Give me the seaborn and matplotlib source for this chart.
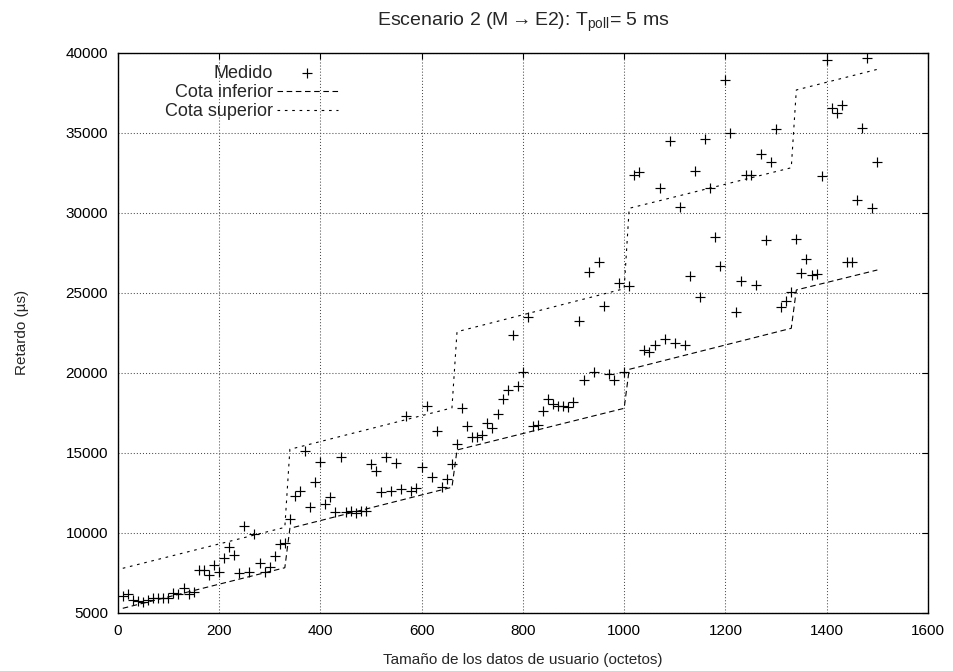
import matplotlib
matplotlib.use("Agg")
import matplotlib.pyplot as plt
import seaborn as sns
import pandas as pd

# ---------------- data ----------------
sizes = list(range(10, 1501, 10))  # tamaño de los datos de usuario (octetos)
measured = [
    6060, 6170, 5800, 5750, 5650, 5800, 5900, 5900, 5900, 5900,
    6250, 6200, 6520, 6200, 6300, 7670, 7670, 7375, 7980, 7560,
    8420, 9080, 8600, 7500, 10420, 7560, 9920, 8090, 7560, 7840,
    8560, 9290, 9375, 10860, 12290, 12625, 15125, 11590, 13190, 14400,
    11775, 12250, 11310, 14710, 11310, 11350, 11250, 11350, 11350, 14290,
    13880, 12560, 14710, 12630, 14340, 12710, 17310, 12630, 12780, 14130,
    17920, 13460, 16380, 12880, 13340, 14290, 15540, 17770, 16670, 15960,
    15960, 16110, 16840, 16520, 17400, 18340, 18920, 22360, 19170, 20060,
    23460, 16670, 16730, 17630, 18340, 18030, 17920, 17920, 17840, 18190,
    23250, 19540, 26270, 20060, 26940, 24170, 19920, 19540, 25620, 20060,
    25420, 32360, 32560, 21420, 21310, 21730, 31520, 22090, 34480, 21880,
    30340, 21730, 26040, 32610, 24710, 34600, 31520, 28460, 26670, 38290,
    34960, 23770, 25750, 32360, 32360, 25480, 33650, 28290, 33190, 35210,
    24100, 24480, 25060, 28360, 26210, 27100, 26100, 26170, 32310, 39540,
    36560, 36250, 36730, 26900, 26940, 30780, 35275, 39690, 30270, 33150,
]

bound_x = [10, 330, 340, 660, 670, 1000, 1010, 1330, 1340, 1500]
lower_bound = [5275, 7810, 10275, 12840, 15170, 17775, 20210, 22775, 25170, 26420]
upper_bound = [7775, 10335, 15210, 17800, 22560, 25250, 30275, 32810, 37670, 38960]

x_ticks = [0, 200, 400, 600, 800, 1000, 1200, 1400, 1600]
y_ticks = [5000, 10000, 15000, 20000, 25000, 30000, 35000, 40000]

title = "Escenario 2 (M$\\rightarrow$E2): T$_{\\mathrm{poll}}$= 5 ms"
xlabel = "Tamaño de los datos de usuario (octetos)"
ylabel = "Retardo (µs)"
labels = ["Medido", "Cota inferior", "Cota superior"]

# ---------------- style ----------------
sns.set_theme(style="white")
plt.rcParams["font.family"] = ["Liberation Sans", "DejaVu Sans"]
plt.rcParams["mathtext.fontset"] = "custom"
plt.rcParams["mathtext.rm"] = "Liberation Sans"
plt.rcParams["mathtext.it"] = "Liberation Sans:italic"
plt.rcParams["mathtext.bf"] = "Liberation Sans:bold"
plt.rcParams["lines.scale_dashes"] = False

FS = 11
W, H = 954, 671
fig = plt.figure(figsize=(W / 100, H / 100), dpi=100)
L, R, T, B = 117.7, 928.0, 52.7, 612.7
ax = fig.add_axes([L / W, 1 - B / H, (R - L) / W, (B - T) / H])

df_pts = pd.DataFrame({"size": sizes, "delay": measured})
df_lo = pd.DataFrame({"size": bound_x, "delay": lower_bound})
df_hi = pd.DataFrame({"size": bound_x, "delay": upper_bound})

sns.scatterplot(data=df_pts, x="size", y="delay", marker="+", s=45,
                color="black", linewidth=0.85, ax=ax, label=labels[0], zorder=3)
sns.lineplot(data=df_lo, x="size", y="delay", estimator=None, sort=False,
             color="black", linewidth=0.8, ax=ax, label=labels[1], zorder=2)
ax.lines[-1].set_dashes([4.0, 2.6])
sns.lineplot(data=df_hi, x="size", y="delay", estimator=None, sort=False,
             color="black", linewidth=0.8, ax=ax, label=labels[2], zorder=2)
ax.lines[-1].set_dashes([1.9, 3.4])

ax.set_xlim(0, 1600)
ax.set_ylim(5000, 40000)
ax.set_xticks(x_ticks)
ax.set_yticks(y_ticks)
ax.set_xticklabels([str(v) for v in x_ticks])
ax.set_yticklabels([str(v) for v in y_ticks])

ax.grid(True, color="0.3", linestyle=(0, (0.75, 1.45)), linewidth=0.75)
ax.set_axisbelow(True)
ax.tick_params(direction="in", length=4.5, width=0.8, top=True, right=True,
               labelsize=FS, colors="black", pad=7)
ax.tick_params(axis="x", pad=8)
for sp in ax.spines.values():
    sp.set_color("black")
    sp.set_linewidth(1.0)

ax.set_xlabel(xlabel, fontsize=FS, va="center")
ax.set_ylabel(ylabel, fontsize=FS, va="center")
ax.xaxis.set_label_coords(0.5, (B - 660) / (B - T))
ax.yaxis.set_label_coords((22 - L) / (R - L), 0.5)
ax.set_title(title, fontsize=14, pad=0, y=(B - 22) / (B - T), va="center")

LFS = 13
ax.legend(loc="upper right", bbox_to_anchor=((338 - L) / (R - L), (B - 65) / (B - T)),
          markerfirst=False, frameon=False, fontsize=LFS, handlelength=3.4,
          handletextpad=0.22, labelspacing=0.12, borderpad=0, borderaxespad=0)

fig.savefig("out.png", dpi=100)
